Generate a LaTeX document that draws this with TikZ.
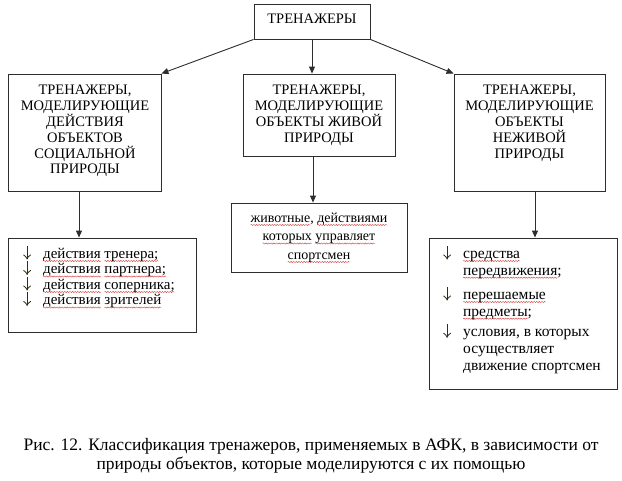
\documentclass[tikz,border=0pt]{standalone}
\usepackage{fontspec}
\setmainfont{Liberation Serif}
\usepackage{xcolor}
\usetikzlibrary{arrows.meta,calc,decorations.pathmorphing}
\definecolor{wavered}{RGB}{215,75,75}
\definecolor{arrgreen}{RGB}{35,55,15}
\definecolor{linegray}{RGB}{45,45,45}
\newsavebox\myWaveBox
\newcommand\rw[1]{\sbox\myWaveBox{#1}\tikz[overlay,baseline=0pt,x=1pt,y=1pt]\draw[wavered,line width=0.45pt,decorate,decoration={snake,amplitude=0.6pt,segment length=2.6pt}] (0,-2.6) -- (\the\wd\myWaveBox,-2.6);\usebox\myWaveBox}
\newcommand\myCapFont{\fontsize{14.5}{16}\selectfont}
\newcommand\myListFont{\fontsize{15}{16}\selectfont}
\newcommand\myMidFont{\fontsize{14}{16}\selectfont}
\newcommand\myRightFont{\fontsize{15.5}{16}\selectfont}
\newcommand\myCaptionFont{\fontsize{17.5}{20}\selectfont}
\newcommand\dnarr{\makebox[23pt][l]{\hspace{3pt}\tikz[baseline=0pt,x=1pt,y=1pt]{\draw[arrgreen,line width=0.8pt] (0,-0.5) -- (0,12.5); \draw[arrgreen,line width=0.8pt,line cap=round] (-3.5,3.5) .. controls (-1.5,2.2) and (-0.5,1) .. (0,-0.5) .. controls (0.5,1) and (1.5,2.2) .. (3.5,3.5);}}}
\begin{document}
\begin{tikzpicture}[x=1pt,y=-1pt,
  box/.style={draw=linegray, line width=0.9pt, inner sep=0pt},
  capline/.style={font=\myCapFont, inner sep=0pt, anchor=base},
  listline/.style={font=\myListFont, inner sep=0pt, anchor=base west},
  rightline/.style={font=\myRightFont, inner sep=0pt, anchor=base west},
  midline/.style={font=\myMidFont, inner sep=0pt, anchor=base},
  capt/.style={font=\myCaptionFont, inner sep=0pt, anchor=base},
  arr/.style={draw=linegray, line width=0.9pt, -{Triangle[length=7pt,width=6pt]}}
]
\useasboundingbox (0,0) rectangle (622,480);
\fill[white] (0,0) rectangle (622,480);

% top box
\node[box, minimum width=116pt, minimum height=35pt] (T) at (312,21.5) {};
\node[capline] (Tt) at (312,23.5) {ТРЕНАЖЕРЫ};

% second level boxes
\node[box, minimum width=153pt, minimum height=117pt] (L) at (84.5,132.5) {};
\node[box, minimum width=152pt, minimum height=82pt] (M) at (319,115) {};
\node[box, minimum width=151pt, minimum height=117pt] (R) at (529.5,132.5) {};

\node[capline] (L1) at (85,94.8) {ТРЕНАЖЕРЫ,};
\node[capline] (L2) at (85,110.6) {МОДЕЛИРУЮЩИЕ};
\node[capline] (L3) at (85,126.4) {ДЕЙСТВИЯ};
\node[capline] (L4) at (85,142.2) {ОБЪЕКТОВ};
\node[capline] (L5) at (85,158.0) {СОЦИАЛЬНОЙ};
\node[capline] (L6) at (85,173.8) {ПРИРОДЫ};

\node[capline] (M1) at (319,94.8) {ТРЕНАЖЕРЫ,};
\node[capline] (M2) at (319,110.6) {МОДЕЛИРУЮЩИЕ};
\node[capline] (M3) at (319,126.4) {ОБЪЕКТЫ ЖИВОЙ};
\node[capline] (M4) at (319,142.2) {ПРИРОДЫ};

\node[capline] (R1) at (529.5,94.8) {ТРЕНАЖЕРЫ,};
\node[capline] (R2) at (529.5,110.6) {МОДЕЛИРУЮЩИЕ};
\node[capline] (R3) at (529.5,126.4) {ОБЪЕКТЫ};
\node[capline] (R4) at (529.5,142.2) {НЕЖИВОЙ};
\node[capline] (R5) at (529.5,158.0) {ПРИРОДЫ};

% third level boxes
\node[box, minimum width=188pt, minimum height=94pt] (LL) at (102,285) {};
\node[box, minimum width=176pt, minimum height=69pt] (ML) at (319,237.5) {};
\node[box, minimum width=188pt, minimum height=151pt] (RL) at (523,313.5) {};

\node[listline] (LL1) at (20,258.4) {\dnarr\rw{действия} \rw{тренера;}};
\node[listline] (LL2) at (20,273.9) {\dnarr\rw{действия} \rw{партнера;}};
\node[listline] (LL3) at (20,289.4) {\dnarr\rw{действия} \rw{соперника;}};
\node[listline] (LL4) at (20,304.9) {\dnarr\rw{действия} \rw{зрителей}};

\node[midline] (ML1) at (319,222.4) {\rw{животные}, \rw{действиями}};
\node[midline] (ML2) at (319,240.9) {\rw{которых} \rw{управляет}};
\node[midline] (ML3) at (319,259.4) {\rw{спортсмен}};

\node[rightline] (RL1) at (440,258.4) {\dnarr\rw{средства}};
\node[rightline] (RL2) at (463,275.1) {\rw{передвижения};};
\node[rightline] (RL3) at (440,299.4) {\dnarr\rw{перешаемые}};
\node[rightline] (RL4) at (463,316.1) {\rw{предметы};};
\node[rightline] (RL5) at (440,336.7) {\dnarr условия, в которых};
\node[rightline] (RL6) at (463,353.4) {осуществляет};
\node[rightline] (RL7) at (463,370.1) {движение спортсмен};

% caption
\node[capt] (C1) at (311,450) {Рис. 12. Классификация тренажеров, применяемых в АФК, в зависимости от};
\node[capt] (C2) at (311,469.5) {природы объектов, которые моделируются с их помощью};

% connectors
\draw[arr] (T.south west) -- (L.north east);
\draw[arr] (T.south) -- (T.south |- M.north);
\draw[arr] (T.south east) -- (R.north west);
\draw[arr] ([xshift=-5.5pt]L.south) -- ([xshift=-5.5pt]L.south |- LL.north);
\draw[arr] ([xshift=-6pt]M.south) -- ([xshift=-6pt]M.south |- ML.north);
\draw[arr] ([xshift=5.5pt]R.south) -- ([xshift=5.5pt]R.south |- RL.north);
\end{tikzpicture}
\end{document}
